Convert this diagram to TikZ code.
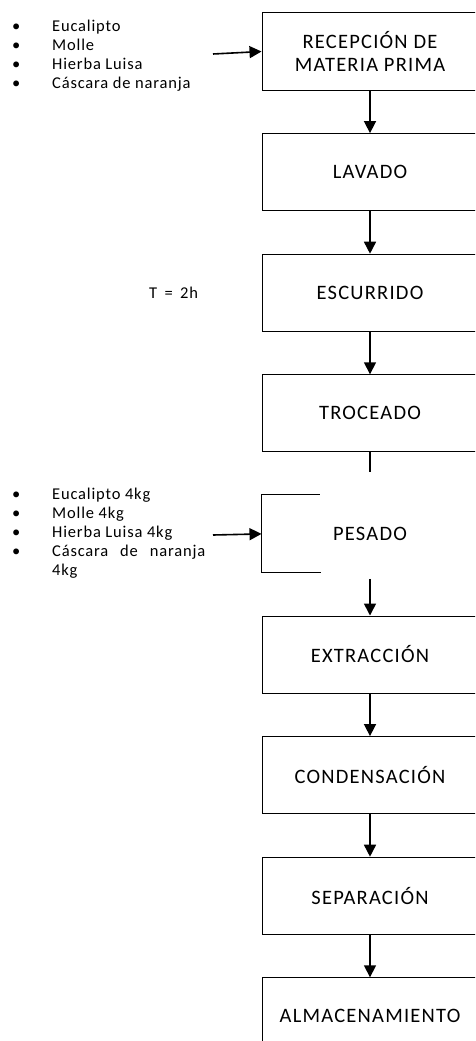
\documentclass[tikz,border=0pt]{standalone}
\usepackage{fontspec}
\setmainfont{Carlito}
\newfontfamily\boxfont[LetterSpace=6]{Carlito}
\newfontfamily\listfont[LetterSpace=5]{Carlito}
\usetikzlibrary{positioning,arrows.meta}

\begin{document}
\begin{tikzpicture}[x=1pt, y=-1pt,
  box/.style={draw, line width=1pt, minimum width=216pt, minimum height=77pt, inner sep=0pt, align=center, font=\boxfont\fontsize{20.5}{23}\selectfont},
  arr/.style={-{Triangle[length=12pt, width=12pt]}, line width=1.6pt},
  lista/.style={anchor=north west, inner sep=0pt, align=left, font=\listfont\fontsize{16.5}{19}\selectfont},
  lbl/.style={font=\listfont\fontsize{16.5}{19}\selectfont}
]
\clip (0,0) rectangle (475,1041);

% process column
\node[box] (recepcion) at (370,51.5) {RECEPCIÓN DE\\MATERIA PRIMA};
\node[box, below=42.6pt of recepcion] (lavado) {LAVADO};
\node[box, below=42.6pt of lavado] (escurrido) {ESCURRIDO};
\node[box, below=42.6pt of escurrido] (troceado) {TROCEADO};
\node[box, draw=none, below=42.6pt of troceado] (pesado) {PESADO};
\node[box, below=42.6pt of pesado] (extraccion) {EXTRACCIÓN};
\node[box, below=42.6pt of extraccion] (condensacion) {CONDENSACIÓN};
\node[box, below=42.6pt of condensacion] (separacion) {SEPARACIÓN};
\node[box, below=42.6pt of separacion] (almacen) {ALMACENAMIENTO};

% broken outline of PESADO
\draw[line width=1pt] ([xshift=58pt]pesado.north west) -- (pesado.north west)
  -- (pesado.south west) -- ([xshift=59pt]pesado.south west);

% inputs
\node[lista] (insumos) at (12,19.5) {%
  \makebox[40pt][l]{\textbullet}Eucalipto\\
  \makebox[40pt][l]{\textbullet}Molle\\
  \makebox[40pt][l]{\textbullet}Hierba Luisa\\
  \makebox[40pt][l]{\textbullet}Cáscara de naranja};
\node[lista] (pesos) at (12,488) {%
  \makebox[40pt][l]{\textbullet}Eucalipto 4kg\\
  \makebox[40pt][l]{\textbullet}Molle 4kg\\
  \makebox[40pt][l]{\textbullet}Hierba Luisa 4kg\\
  \makebox[40pt][l]{\textbullet}\makebox[153pt][s]{Cáscara de naranja}\\
  \makebox[40pt][l]{}4kg};
\node[lbl, left=60pt of escurrido] (tiempo) {T\,\ =\,\ 2h};

\coordinate (in1) at (213,54);
\coordinate (in2) at (213,535);
\coordinate[below=20pt of troceado] (corte);

% connectors
\draw[arr] (in1) -- (recepcion.west);
\draw[arr] (in2) -- (pesado.west);
\draw[arr] (recepcion) -- (lavado);
\draw[arr] (lavado) -- (escurrido);
\draw[arr] (escurrido) -- (troceado);
\draw[line width=1.6pt] (troceado.south) -- (corte);
\draw[arr, shorten <=6pt] (pesado.south) -- (extraccion.north);
\draw[arr] (extraccion) -- (condensacion);
\draw[arr] (condensacion) -- (separacion);
\draw[arr] (separacion) -- (almacen);

\end{tikzpicture}
\end{document}
